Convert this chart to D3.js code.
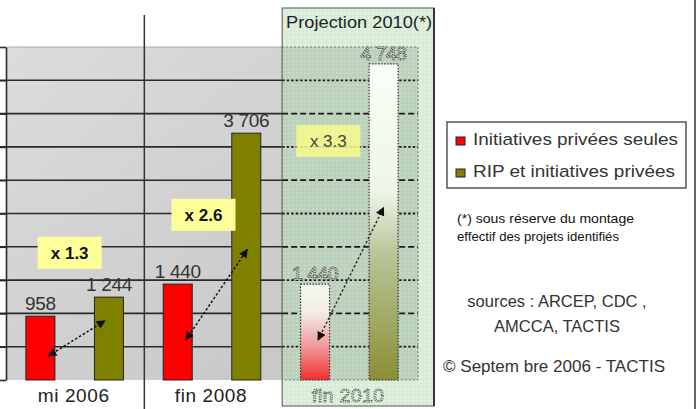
<!DOCTYPE html>
<html><head><meta charset="utf-8">
<script src="https://cdn.jsdelivr.net/npm/d3@7"></script>
<style>
body{margin:0;background:#fff;}
svg{display:block;font-family:"Liberation Sans",Arial,sans-serif;}
</style></head>
<body>
<svg id="c" width="698" height="409"></svg>
<script>
// ---- data ----
const categories = ["mi 2006", "fin 2008", "fin 2010"];
const seriesNames = ["Initiatives privées seules", "RIP et initiatives privées"];
const privateOnly = [958, 1440, 1440];
const ripAndPrivate = [1244, 3706, 4748];
const valueLabels = [["958", "1 440", "1 440"], ["1 244", "3 706", "4 748"]];
const multipliers = ["x 1.3", "x 2.6", "x 3.3"];
const multiplierLevels = [1910, 2480, 3590];
const arrowFrom = [360, 600, 600];
const arrowTo = [890, 1960, 2590];
const yTicks = [0, 500, 1000, 1500, 2000, 2500, 3000, 3500, 4000, 4500, 5000];
const projectionTitle = "Projection 2010(*)";
const footnote = ["(*) sous réserve du montage", "effectif des projets identifiés"];
const sources = ["sources : ARCEP, CDC ,", "AMCCA, TACTIS"];
const copyright = "© Septem bre 2006 - TACTIS";
const colors = ["#ff0000", "#808000"];

const svg = d3.select("#c");
const defs = svg.append("defs");

const plotL = 6, plotR = 418, plotT = 47, plotB = 380;
const x0 = d3.scaleBand().domain(categories).range([plotL, plotR]);
const x1 = d3.scaleBand().domain([0, 1]).range([0, x0.bandwidth()]).paddingInner(0.577).paddingOuter(0.29);
const y = d3.scaleLinear().domain([0, 5000]).range([plotB, plotT]);

// gradients
const gBg = defs.append("linearGradient").attr("id", "bg").attr("x1", "0").attr("y1", "0").attr("x2", "1").attr("y2", "1");
gBg.append("stop").attr("offset", "0").attr("stop-color", "#dcdcdc");
gBg.append("stop").attr("offset", "1").attr("stop-color", "#c4c4c4");

const gR = defs.append("linearGradient").attr("id", "gr").attr("x1", 0).attr("y1", 0).attr("x2", 0).attr("y2", 1);
gR.append("stop").attr("offset", "0").attr("stop-color", "#f4fcf0");
gR.append("stop").attr("offset", "0.3").attr("stop-color", "#f2ece6");
gR.append("stop").attr("offset", "0.65").attr("stop-color", "#f09a9a");
gR.append("stop").attr("offset", "1").attr("stop-color", "#f03030");
const gG = defs.append("linearGradient").attr("id", "gg").attr("x1", 0).attr("y1", 0).attr("x2", 0).attr("y2", 1);
gG.append("stop").attr("offset", "0").attr("stop-color", "#f8fff6");
gG.append("stop").attr("offset", "0.4").attr("stop-color", "#eef5ea");
gG.append("stop").attr("offset", "0.6").attr("stop-color", "#b8c698");
gG.append("stop").attr("offset", "1").attr("stop-color", "#8c8e34");

const pat = defs.append("pattern").attr("id", "dots").attr("width", 4).attr("height", 4).attr("patternUnits", "userSpaceOnUse");
pat.append("rect").attr("width", 4).attr("height", 4).attr("fill", "rgba(200,230,200,0.7)");
pat.append("circle").attr("cx", 1).attr("cy", 1).attr("r", 0.9).attr("fill", "rgba(245,255,245,0.5)");

const projCat = categories[2];
const panelL = x0(projCat) + 1.5, panelR = 434, panelT = 8, panelB = 406;

// plot background
svg.append("rect").attr("x", plotL).attr("y", plotT).attr("width", plotR - plotL).attr("height", plotB - plotT)
  .attr("fill", "url(#bg)");
svg.append("line").attr("x1", plotL).attr("x2", panelL).attr("y1", plotT).attr("y2", plotT).attr("stroke", "#aaa").attr("stroke-width", 1);

// gridlines (solid part)
svg.append("g").selectAll("line").data(yTicks.slice(1, -1)).join("line")
  .attr("x1", 0).attr("x2", panelL).attr("y1", d => y(d)).attr("y2", d => y(d))
  .attr("stroke", "#2a2a2a").attr("stroke-width", 1.6);

// left axis
const ax = svg.append("g").attr("transform", `translate(${plotL},0)`)
  .call(d3.axisLeft(y).tickValues(yTicks).tickSize(plotL).tickSizeOuter(0).tickFormat(""));
ax.selectAll("path").attr("stroke", "#2a2a2a").attr("stroke-width", 1.6);
ax.selectAll("line").attr("stroke", "#2a2a2a").attr("stroke-width", 1.6);

// separator
svg.append("line").attr("x1", x0(categories[1]) + 1).attr("x2", x0(categories[1]) + 1)
  .attr("y1", 15).attr("y2", 409).attr("stroke", "#333").attr("stroke-width", 1.5);

// solid bars (first two categories)
const solidIdx = [0, 1];
const series = [privateOnly, ripAndPrivate];
solidIdx.forEach(ci => {
  series.forEach((vals, si) => {
    const bx = x0(categories[ci]) + x1(si);
    svg.append("rect").attr("x", bx).attr("y", y(vals[ci])).attr("width", x1.bandwidth())
      .attr("height", y(0) - y(vals[ci])).attr("fill", colors[si]).attr("stroke", "#222").attr("stroke-width", 1);
    svg.append("text").attr("x", bx + x1.bandwidth() / 2).attr("y", y(vals[ci]) - 6)
      .attr("text-anchor", "middle").attr("font-size", 19).attr("fill", "#333")
      .attr("letter-spacing", "-0.3").text(valueLabels[si][ci]);
  });
});

// projection panel
svg.append("rect").attr("x", panelL).attr("y", panelT).attr("width", panelR - panelL).attr("height", panelB - panelT)
  .attr("fill", "url(#dots)").attr("stroke", "#555").attr("stroke-width", 1);
svg.append("line").attr("x1", panelR).attr("x2", panelR).attr("y1", panelT).attr("y2", panelB).attr("stroke", "#333").attr("stroke-width", 2);
// dotted plot border inside panel
svg.append("rect").attr("x", panelL).attr("y", plotT).attr("width", plotR - panelL).attr("height", plotB - plotT)
  .attr("fill", "rgba(170,190,170,0.4)").attr("stroke", "#777").attr("stroke-width", 1).attr("stroke-dasharray", "2,2");
// dashed gridlines in panel
svg.append("g").selectAll("line").data(yTicks.slice(1, -1)).join("line")
  .attr("x1", panelL).attr("x2", plotR).attr("y1", d => y(d)).attr("y2", d => y(d))
  .attr("stroke", "#1a1a1a").attr("stroke-width", 1.8).attr("stroke-dasharray", (d, i) => i % 2 ? "6,3" : "2.5,2");

// projection bars
series.forEach((vals, si) => {
  const bx = x0(projCat) + x1(si);
  svg.append("rect").attr("x", bx).attr("y", y(vals[2])).attr("width", x1.bandwidth())
    .attr("height", y(0) - y(vals[2])).attr("fill", si ? "url(#gg)" : "url(#gr)")
    .attr("stroke", "#333").attr("stroke-width", 1.2).attr("stroke-dasharray", "1.5,1.5");
  svg.append("text").attr("x", bx + x1.bandwidth() / 2).attr("y", y(vals[2]) - 4)
    .attr("text-anchor", "middle").attr("font-size", 19).attr("fill", "#dfe9dc")
    .attr("stroke", "#3a3a3a").attr("stroke-width", 1).attr("stroke-dasharray", "1.3,1")
    .attr("letter-spacing", "-0.3").text(valueLabels[si][2]);
});

// panel title
svg.append("text").attr("x", (panelL + panelR) / 2 + 1).attr("y", 28).attr("text-anchor", "middle")
  .attr("font-size", 17).attr("fill", "#222").attr("textLength", 146).attr("lengthAdjust", "spacingAndGlyphs")
  .text(projectionTitle);

// category labels
svg.append("g").selectAll("text").data(categories).join("text")
  .attr("x", d => x0(d) + x0.bandwidth() / 2 - 1).attr("y", 402).attr("text-anchor", "middle")
  .attr("font-size", 19).attr("letter-spacing", "0.6")
  .attr("fill", (d, i) => i === 2 ? "#e4f0e2" : "#222")
  .attr("stroke", (d, i) => i === 2 ? "#444" : "none").attr("stroke-width", 1)
  .attr("stroke-dasharray", (d, i) => i === 2 ? "1.3,1" : null)
  .text(d => d);

// arrows
["arrS", "arrE"].forEach((id, k) => {
  defs.append("marker").attr("id", id).attr("viewBox", "0 0 10 10").attr("refX", 9).attr("refY", 5)
    .attr("markerWidth", 6).attr("markerHeight", 6).attr("orient", k ? "auto" : "auto-start-reverse")
    .append("path").attr("d", "M0,0 L10,5 L0,10 z").attr("fill", "#111");
});
const arrowDx = [[8, -4], [8, 1], [3, 0]];
categories.forEach((c, i) => {
  const xa = x0(c) + x1(0) + x1.bandwidth() / 2 + arrowDx[i][0];
  const xb = x0(c) + x1(1) + x1.bandwidth() / 2 + arrowDx[i][1];
  svg.append("line").attr("x1", xa).attr("y1", y(arrowFrom[i])).attr("x2", xb).attr("y2", y(arrowTo[i]))
    .attr("stroke", i === 2 ? "#333" : "#111").attr("stroke-width", 1.5).attr("stroke-dasharray", "2.5,2")
    .attr("marker-start", "url(#arrS)").attr("marker-end", "url(#arrE)");
});

// multiplier boxes
const boxDx = [-5, -8.5, -21];
categories.forEach((c, i) => {
  const cx = x0(c) + x0.bandwidth() / 2 + boxDx[i], cy = y(multiplierLevels[i]);
  svg.append("rect").attr("x", cx - 32).attr("y", cy - 16).attr("width", 64).attr("height", 32)
    .attr("fill", i === 2 ? "rgba(248,250,140,0.85)" : "#ffff99");
  svg.append("text").attr("x", cx).attr("y", cy + 6).attr("text-anchor", "middle")
    .attr("font-size", 17).attr("font-weight", i === 2 ? "normal" : "bold")
    .attr("fill", i === 2 ? "#444" : "#111").text(multipliers[i]);
});

// legend
svg.append("rect").attr("x", 447).attr("y", 122).attr("width", 239).attr("height", 66)
  .attr("fill", "#fff").attr("stroke", "#555").attr("stroke-width", 1.5);
seriesNames.forEach((n, i) => {
  svg.append("rect").attr("x", 456).attr("y", 137 + i * 32).attr("width", 9).attr("height", 8)
    .attr("fill", colors[i]).attr("stroke", "#222").attr("stroke-width", 1);
  svg.append("text").attr("x", 473).attr("y", 145 + i * 32).attr("font-size", 17).attr("fill", "#333")
    .attr("textLength", i ? 202 : 205).attr("lengthAdjust", "spacingAndGlyphs").text(n);
});

// footnote
footnote.forEach((t, i) => {
  svg.append("text").attr("x", 457).attr("y", 223 + i * 18).attr("font-size", 13).attr("fill", "#111")
    .attr("textLength", i ? 162 : 177).attr("lengthAdjust", "spacingAndGlyphs").text(t);
});
// sources
sources.forEach((t, i) => {
  svg.append("text").attr("x", 557).attr("y", 307 + i * 25).attr("text-anchor", "middle").attr("font-size", 16.5)
    .attr("fill", "#333").text(t);
});
svg.append("text").attr("x", 443).attr("y", 372).attr("font-size", 17).attr("fill", "#333")
  .attr("textLength", 222).attr("lengthAdjust", "spacingAndGlyphs").text(copyright);

// right border
svg.append("line").attr("x1", 695).attr("x2", 695).attr("y1", 0).attr("y2", 409).attr("stroke", "#333").attr("stroke-width", 1.5);
</script>
</body></html>
